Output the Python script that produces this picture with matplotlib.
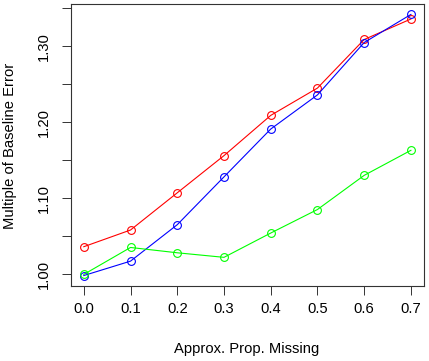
"""Multiple of baseline error vs approximate proportion missing."""

import matplotlib
matplotlib.use("Agg")
import matplotlib.pyplot as plt
import numpy as np

plt.rcParams["font.family"] = ["Liberation Sans", "DejaVu Sans"]

# ── Data ─────────────────────────────────────────────────────────────────────
prop_missing = [0.0, 0.1, 0.2, 0.3, 0.4, 0.5, 0.6, 0.7]
red_vals = [1.036, 1.058, 1.107, 1.156, 1.209, 1.245, 1.309, 1.336]
blue_vals = [0.998, 1.017, 1.065, 1.128, 1.191, 1.236, 1.305, 1.342]
green_vals = [0.9995, 1.035, 1.028, 1.022, 1.054, 1.085, 1.130, 1.163]

x_ticks = [0.0, 0.1, 0.2, 0.3, 0.4, 0.5, 0.6, 0.7]
y_ticks = [1.00, 1.05, 1.10, 1.15, 1.20, 1.25, 1.30, 1.35]
y_labels = ["1.00", "", "1.10", "", "1.20", "", "1.30", ""]

# ── Figure ───────────────────────────────────────────────────────────────────
fig = plt.figure(figsize=(4.29, 3.61), dpi=100)
ax = fig.add_axes([70.7 / 429, 1 - 286 / 361, (424 - 70.7) / 429, (286 - 4) / 361])

for vals, col in [(red_vals, "#FF0000"), (blue_vals, "#0000FF"), (green_vals, "#00FF00")]:
    ax.plot(prop_missing, vals, color=col, lw=0.8, marker="o", ms=5.6,
            mfc="none", mec=col, mew=0.8)

# R-style 4% padding
xs = np.array(prop_missing)
ys = np.concatenate([red_vals, blue_vals, green_vals])
xpad = 0.04 * (xs.max() - xs.min())
ypad = 0.04 * (ys.max() - ys.min())
ax.set_xlim(xs.min() - xpad, xs.max() + xpad)
ax.set_ylim(ys.min() - ypad, ys.max() + ypad)

ax.set_xticks(x_ticks)
ax.set_xticklabels([f"{v:.1f}" for v in x_ticks])
ax.set_yticks(y_ticks)
ax.set_yticklabels(y_labels, rotation=90, va="center")

ax.tick_params(axis="both", direction="out", length=6.5, width=0.7,
               labelsize=10.6, color="#333333")
ax.tick_params(axis="x", pad=5)
ax.tick_params(axis="y", pad=8)
for s in ax.spines.values():
    s.set_linewidth(0.8)
    s.set_color("#333333")

fig.text(247 / 429, 1 - 349 / 361, "Approx. Prop. Missing", ha="center",
         va="center", fontsize=10.6)
fig.text(10 / 429, 1 - 146 / 361, "Multiple of Baseline Error", ha="center",
         va="center", rotation=90, fontsize=10.6)

fig.savefig("out.png", dpi=100)
